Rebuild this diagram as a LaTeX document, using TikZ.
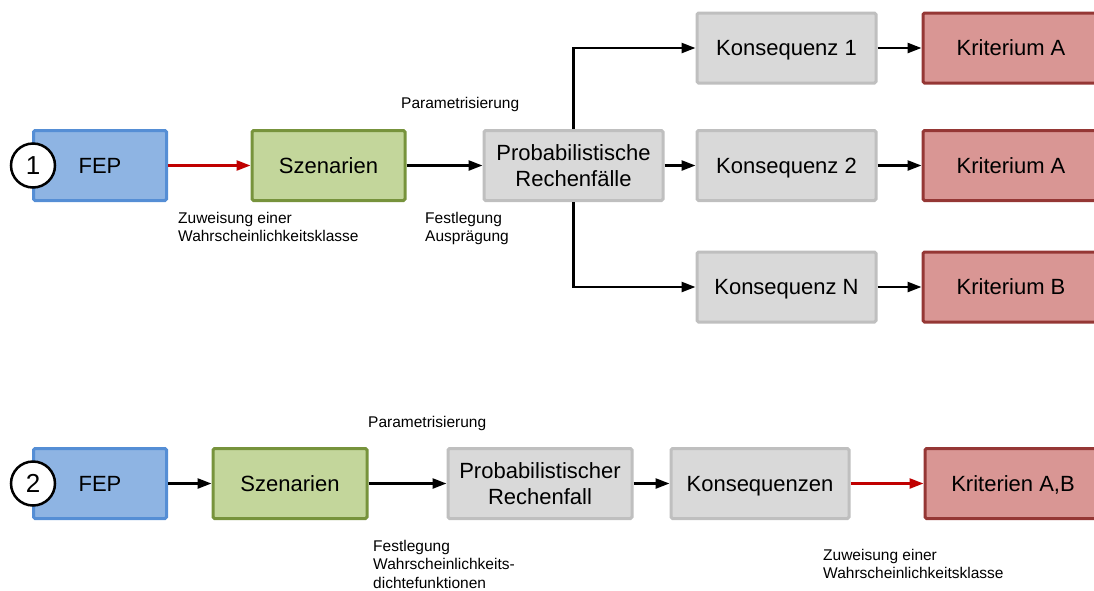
\documentclass[tikz,border=0pt]{standalone}
\usepackage{fontspec}
\setmainfont{Liberation Sans}
\usetikzlibrary{arrows.meta}

\definecolor{fepfill}{HTML}{8EB4E3}
\definecolor{fepline}{HTML}{558ED5}
\definecolor{szfill}{HTML}{C3D69B}
\definecolor{szline}{HTML}{77933C}
\definecolor{grfill}{HTML}{D9D9D9}
\definecolor{grline}{HTML}{BFBFBF}
\definecolor{krfill}{HTML}{D99694}
\definecolor{krline}{HTML}{953735}
\definecolor{redarrow}{HTML}{C00000}

\begin{document}
\begin{tikzpicture}[x=1pt,y=-1pt,
  box/.style={rectangle, line width=3pt, rounded corners=1.5pt, align=center,
    inner sep=0pt, minimum height=70pt,
    font=\fontsize{22}{26}\selectfont},
  oneline/.style={text height=15.8pt, text depth=0pt},
  fepbox/.style={box, oneline, draw=fepline, fill=fepfill, minimum width=133pt},
  szbox/.style={box, oneline, draw=szline, fill=szfill},
  grbox/.style={box, draw=grline, fill=grfill},
  krbox/.style={box, oneline, draw=krline, fill=krfill, minimum width=176pt},
  numcircle/.style={circle, draw=black, line width=2.5pt, fill=white,
    minimum size=44pt, inner sep=0pt, font=\fontsize{26}{30}\selectfont},
  lbl/.style={anchor=north west, align=left, inner sep=0pt,
    font=\fontsize{15.5}{18.5}\selectfont},
  arr/.style={line width=2.5pt, -{Triangle[length=14pt,width=10pt]}},
  redarr/.style={arr, draw=redarrow, -{Triangle[length=14pt,width=10pt,fill=redarrow]}}
]
\useasboundingbox (0,0) rectangle (1094,590);
\clip (0,0) rectangle (1094,590);

% ---- Variante 1 ----
\node[fepbox] (f1) at (100,165.5) {FEP};
\node[numcircle] (c1) at (33,165.5) {1};
\node[szbox, minimum width=153pt] (s1) at (328.5,165.5) {Szenarien};
\node[grbox, minimum width=179pt] (p1) at (573.5,165.5) {Probabilistische\\Rechenfälle};
\node[grbox, oneline, minimum width=179pt] (k1) at (786.5,48) {Konsequenz 1};
\node[grbox, oneline, minimum width=179pt] (k2) at (786.5,165.5) {Konsequenz 2};
\node[grbox, oneline, minimum width=179pt] (kn) at (786.5,287) {Konsequenz N};
\node[krbox] (r1) at (1011,48) {Kriterium A};
\node[krbox] (r2) at (1011,165.5) {Kriterium A};
\node[krbox] (r3) at (1011,287) {Kriterium B};

\draw[redarr] (f1) -- (s1);
\draw[arr] (s1) -- (p1);
\draw[arr] (p1.north) |- (k1.west);
\draw[arr] (p1) -- (k2);
\draw[arr] (p1.south) |- (kn.west);
\draw[arr] (k1) -- (r1);
\draw[arr] (k2) -- (r2);
\draw[arr] (kn) -- (r3);

\node[lbl] (l1) at (401,97) {Parametrisierung};
\node[lbl] (l2) at (178,212) {Zuweisung einer\\Wahrscheinlichkeitsklasse};
\node[lbl] (l3) at (425,212) {Festlegung\\Ausprägung};

% ---- Variante 2 ----
\node[fepbox] (f2) at (100,483.5) {FEP};
\node[numcircle] (c2) at (33,483.5) {2};
\node[szbox, minimum width=154pt] (s2) at (290,483.5) {Szenarien};
\node[grbox, minimum width=184pt] (p2) at (540,483.5) {Probabilistischer\\Rechenfall};
\node[grbox, oneline, minimum width=178pt] (kq) at (760,483.5) {Konsequenzen};
\node[krbox] (rq) at (1013,483.5) {Kriterien A,B};

\draw[arr] (f2) -- (s2);
\draw[arr] (s2) -- (p2);
\draw[arr] (p2) -- (kq);
\draw[redarr] (kq) -- (rq);

\node[lbl] (l4) at (368,416) {Parametrisierung};
\node[lbl] (l5) at (373,540) {Festlegung\\Wahrscheinlichkeits-\\dichtefunktionen};
\node[lbl] (l6) at (823,549) {Zuweisung einer\\Wahrscheinlichkeitsklasse};
\end{tikzpicture}
\end{document}
